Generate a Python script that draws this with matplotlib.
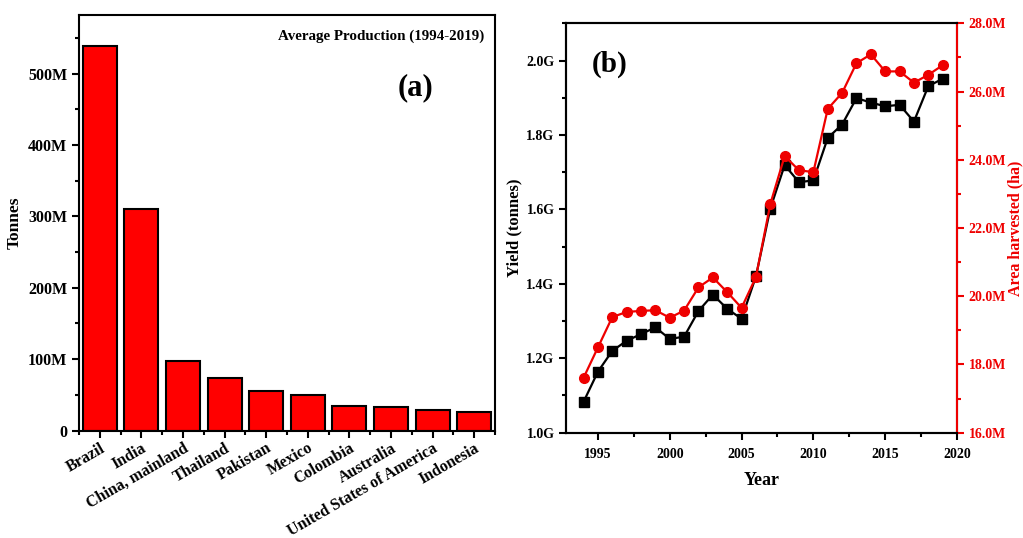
import matplotlib.pyplot as plt
from matplotlib.ticker import FuncFormatter, MultipleLocator

plt.rcParams["font.family"] = ["Liberation Serif", "DejaVu Serif"]
plt.rcParams["font.weight"] = "bold"

# panel (a): average production 1994-2019, million tonnes
countries = ["Brazil", "India", "China, mainland", "Thailand", "Pakistan",
             "Mexico", "Colombia", "Australia", "United States of America",
             "Indonesia"]
production_m = [538, 310, 97, 73, 55, 50, 34, 33.5, 29, 26.6]

# panel (b): yield (G tonnes) and area harvested (M ha)
years = list(range(1994, 2020))
yield_g = [1.083, 1.164, 1.220, 1.247, 1.265, 1.283, 1.252, 1.258, 1.327,
           1.371, 1.333, 1.306, 1.420, 1.602, 1.719, 1.673, 1.678, 1.792,
           1.828, 1.899, 1.887, 1.877, 1.881, 1.836, 1.931, 1.951]
area_m = [17.61, 18.50, 19.39, 19.54, 19.57, 19.59, 19.37, 19.58, 20.26,
          20.55, 20.12, 19.66, 20.56, 22.70, 24.11, 23.69, 23.64, 25.49,
          25.96, 26.83, 27.09, 26.59, 26.59, 26.26, 26.49, 26.77]

RED = "#ee0000"

fig = plt.figure(figsize=(10.23, 5.38), dpi=100)

# ---- (a) bar chart
ax1 = fig.add_axes([0.0772, 0.1998, 0.4067, 0.7723])
pos = range(len(countries))
ax1.bar(pos, production_m, width=0.82, color="red", edgecolor="black",
        linewidth=1.5, zorder=2)
ax1.set_xlim(-0.5, len(countries) - 0.5)
ax1.set_ylim(0, 582)
ax1.set_xticks(list(pos))
ax1.set_xticklabels(countries, rotation=30, ha="right",
                    rotation_mode="anchor", fontsize=11, fontweight="bold")
ax1.xaxis.set_minor_locator(MultipleLocator(1, offset=0.5))
ax1.yaxis.set_major_locator(MultipleLocator(100))
ax1.yaxis.set_minor_locator(MultipleLocator(50))
ax1.yaxis.set_major_formatter(FuncFormatter(lambda v, p: "0" if v == 0 else f"{v:.0f}M"))
ax1.tick_params(which="both", direction="out", width=1.5)
ax1.tick_params(which="major", length=5, labelsize=11.5)
ax1.tick_params(axis="x", which="major", pad=2)
ax1.tick_params(which="minor", length=3)
for s in ax1.spines.values():
    s.set_linewidth(1.5)
ax1.set_ylabel("Tonnes", fontsize=12.5, fontweight="bold", labelpad=4)
ax1.text(0.975, 0.965, "Average Production (1994-2019)", transform=ax1.transAxes,
         ha="right", va="top", fontsize=10.8, fontweight="bold")
ax1.text(0.81, 0.825, "(a)", transform=ax1.transAxes, ha="center", va="center",
         fontsize=22, fontweight="bold")

# ---- (b) two y axes
ax2 = fig.add_axes([0.5536, 0.1957, 0.3819, 0.761])
ax2.plot(years, yield_g, color="black", marker="s", markersize=6.5,
         linewidth=1.6, zorder=3)
ax2.set_xlim(1992.8, 2020)
ax2.set_ylim(1.0, 2.1)
ax2.xaxis.set_major_locator(MultipleLocator(5))
ax2.xaxis.set_minor_locator(MultipleLocator(2.5))
ax2.yaxis.set_major_locator(MultipleLocator(0.2))
ax2.yaxis.set_minor_locator(MultipleLocator(0.1))
ax2.yaxis.set_major_formatter(FuncFormatter(lambda v, p: f"{v:.1f}G"))
ax2.tick_params(which="both", direction="out", width=1.5)
ax2.tick_params(which="major", length=5, labelsize=10)
ax2.tick_params(axis="x", which="major", pad=6)
ax2.tick_params(which="minor", length=3)
for s in ax2.spines.values():
    s.set_linewidth(1.5)
ax2.set_xlabel("Year", fontsize=13, fontweight="bold", labelpad=8)
ax2.set_ylabel("Yield (tonnes)", fontsize=12, fontweight="bold", labelpad=3)
ax2.text(0.11, 0.9, "(b)", transform=ax2.transAxes, ha="center", va="center",
         fontsize=21, fontweight="bold")

ax3 = ax2.twinx()
ax3.plot(years, area_m, color=RED, marker="o", markersize=7,
         linewidth=1.6, zorder=4)
ax3.set_ylim(16, 28)
ax3.yaxis.set_major_locator(MultipleLocator(2))
ax3.yaxis.set_minor_locator(MultipleLocator(1))
ax3.yaxis.set_major_formatter(FuncFormatter(lambda v, p: f"{v:.1f}M"))
ax3.tick_params(which="both", direction="out", width=1.5, color=RED,
                labelcolor=RED)
ax3.tick_params(which="major", length=5, labelsize=10)
ax3.tick_params(which="minor", length=3)
for s in ax3.spines.values():
    s.set_linewidth(1.5)
ax3.spines["right"].set_color(RED)
ax3.set_ylabel("Area harvested (ha)", fontsize=11.5, fontweight="bold",
               color=RED, labelpad=1)

fig.savefig("out.png", dpi=100)
